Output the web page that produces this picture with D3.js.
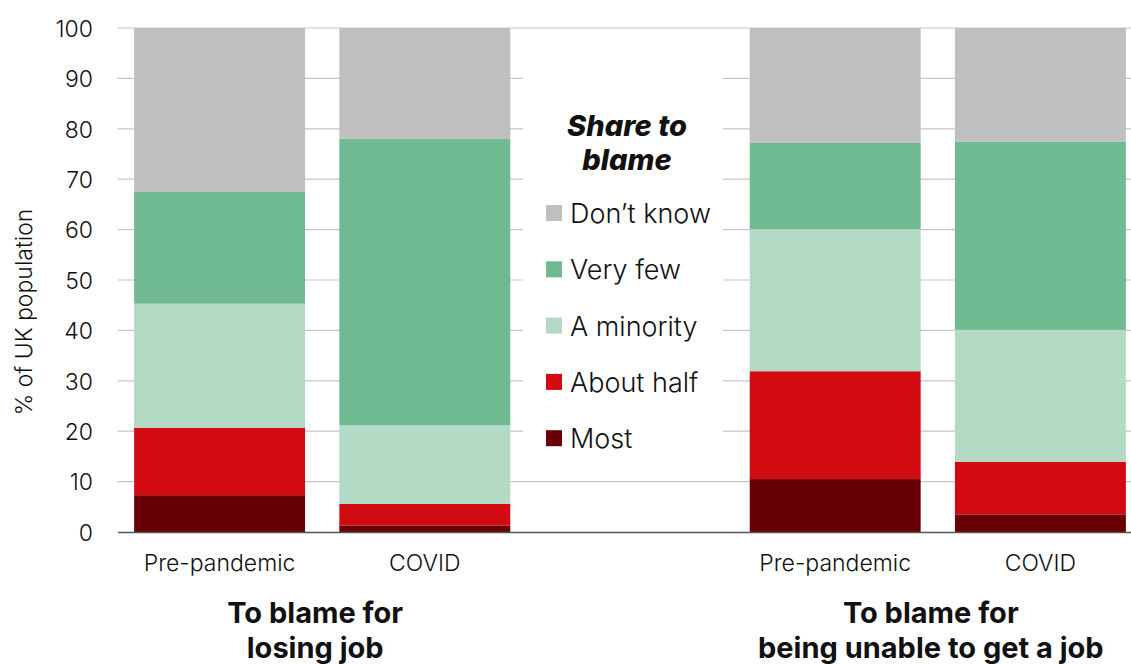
<!DOCTYPE html>
<html>
<head>
<meta charset="utf-8">
<style>
  body { margin: 0; background: #fff; }
  text { font-family: "Inter", "Roboto", sans-serif; fill: #111; }
</style>
</head>
<body>
<svg id="chart"></svg>
<script src="https://cdnjs.cloudflare.com/ajax/libs/d3/7.8.5/d3.min.js"></script>
<script>
// bars, left to right; a blank slot sits between the two pairs for the legend
var periods = ["Pre-pandemic", "COVID", "Pre-pandemic", "COVID"];
var slots = ["a", "b", "c", "d"];
var groupTitles = [["To blame for", "losing job"], ["To blame for", "being unable to get a job"]];

var series = ["Most", "About half", "A minority", "Very few", "Don\u2019t know"];
var most      = [7.3, 1.3, 10.5, 3.5];
var aboutHalf = [13.4, 4.3, 21.4, 10.4];
var minority  = [24.6, 15.6, 28.2, 26.2];
var veryFew   = [22.3, 56.8, 17.1, 37.3];
var dontKnow  = [32.4, 22.0, 22.8, 22.6];
var yTicks = [0, 10, 20, 30, 40, 50, 60, 70, 80, 90, 100];

var colors = ["#660006", "#d20a11", "#b3dac5", "#6fba91", "#bfbfbf"];

var width = 1131, height = 664;
var svg = d3.select("#chart").attr("width", width).attr("height", height);

var rows = periods.map(function(p, i) {
  return {
    slot: slots[i],
    "Most": most[i],
    "About half": aboutHalf[i],
    "A minority": minority[i],
    "Very few": veryFew[i],
    "Don\u2019t know": dontKnow[i]
  };
});

var x = d3.scaleBand()
  .domain(["a", "b", "gap", "c", "d"])
  .range([117, 1143])
  .paddingInner(0.167)
  .paddingOuter(0.0835);

var y = d3.scaleLinear().domain([0, 100]).range([532, 28]);

// gridlines
svg.append("g")
  .selectAll("line")
  .data(yTicks.filter(function(t) { return t > 0; }))
  .enter().append("line")
  .attr("x1", 118).attr("x2", width)
  .attr("y1", function(d) { return y(d); })
  .attr("y2", function(d) { return y(d); })
  .attr("stroke", "#c6c6c6")
  .attr("stroke-width", 1.2);

// y axis labels
var yAxis = d3.axisLeft(y).tickValues(yTicks).tickSize(0).tickPadding(0);
var yg = svg.append("g").attr("transform", "translate(93,0)").call(yAxis);
yg.select(".domain").remove();
yg.selectAll("text")
  .style("font-family", "Inter, Roboto, sans-serif")
  .style("font-size", "23px")
  .style("font-weight", 300)
  .attr("fill", "#111")
  .attr("dy", "0.36em");

svg.append("text")
  .attr("transform", "translate(32,312) rotate(-90)")
  .attr("text-anchor", "middle")
  .style("font-size", "23px")
  .style("font-weight", 300)
  .text("% of UK population");

// stacked bars
var stack = d3.stack().keys(series)(rows);
svg.append("g")
  .selectAll("g")
  .data(stack)
  .enter().append("g")
  .attr("fill", function(d, i) { return colors[i]; })
  .selectAll("rect")
  .data(function(d) { return d; })
  .enter().append("rect")
  .attr("x", function(d) { return x(d.data.slot); })
  .attr("width", x.bandwidth())
  .attr("y", function(d) { return y(d[1]); })
  .attr("height", function(d) { return y(d[0]) - y(d[1]); });

// baseline
svg.append("line")
  .attr("x1", 118).attr("x2", width)
  .attr("y1", y(0) + 0.5).attr("y2", y(0) + 0.5)
  .attr("stroke", "#555")
  .attr("stroke-width", 1.6);

// x labels
svg.append("g")
  .selectAll("text")
  .data(periods)
  .enter().append("text")
  .attr("x", function(d, i) { return x(slots[i]) + x.bandwidth() / 2; })
  .attr("y", 571)
  .attr("text-anchor", "middle")
  .style("font-size", "23px")
  .style("font-weight", 300)
  .text(function(d) { return d; });

// group titles
groupTitles.forEach(function(lines, g) {
  var cx = (x(slots[g * 2]) + x(slots[g * 2 + 1]) + x.bandwidth()) / 2 - 7;
  lines.forEach(function(line, j) {
    svg.append("text")
      .attr("x", cx)
      .attr("y", 623 + j * 35)
      .attr("text-anchor", "middle")
      .style("font-size", "29px")
      .style("font-weight", 700)
      .text(line);
  });
});

// legend
var lg = svg.append("g");
lg.append("rect")
  .attr("x", 523).attr("y", 40).attr("width", 200).attr("height", 430)
  .attr("fill", "#fff");
["Share to", "blame"].forEach(function(t, j) {
  lg.append("text")
    .attr("x", 627).attr("y", 136 + j * 34)
    .attr("text-anchor", "middle")
    .style("font-size", "29px")
    .style("font-weight", 800)
    .style("font-style", "italic")
    .text(t);
});
var legendItems = series.slice().reverse();
var legendColors = colors.slice().reverse();
legendItems.forEach(function(name, i) {
  var cy = 213 + i * 56.3;
  lg.append("rect")
    .attr("x", 546).attr("y", cy - 8).attr("width", 16).attr("height", 16)
    .attr("fill", legendColors[i]);
  lg.append("text")
    .attr("x", 570).attr("y", cy + 10)
    .style("font-size", "27px")
    .style("font-weight", 300)
    .text(name);
});
</script>
</body>
</html>
